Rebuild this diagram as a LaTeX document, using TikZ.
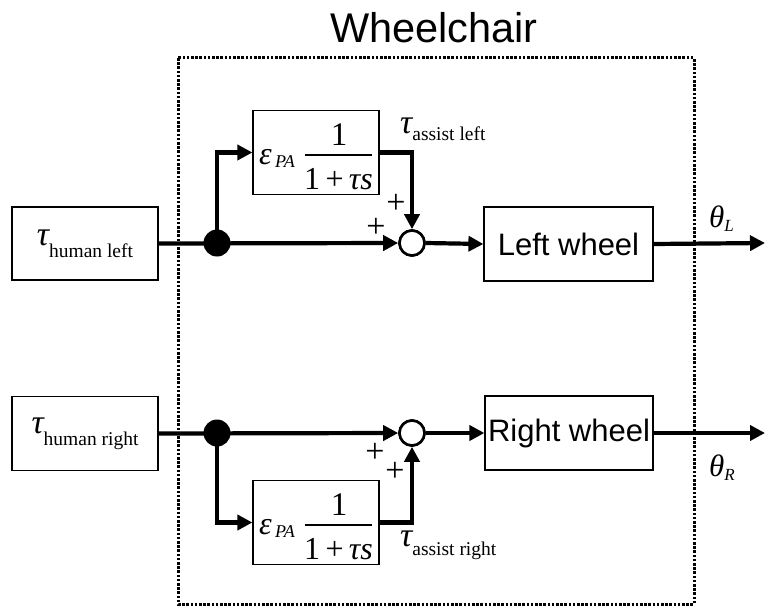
\documentclass[tikz,border=0pt]{standalone}
\usepackage{fontspec}
\setmainfont{Liberation Serif}
\newfontfamily\arialfont{Liberation Sans}
\usetikzlibrary{arrows.meta}

% symbol with a lowered upright subscript, e.g. tau_{human left}
\newcommand\symsub[4]{{\fontsize{#3}{#3}\selectfont\itshape #1}\raisebox{-#4pt}{\fontsize{19.5}{19.5}\selectfont #2}}

\begin{document}
\begin{tikzpicture}[x=1pt,y=-1pt,
    blk/.style={draw,line width=1.2pt,minimum width=#1,inner sep=0pt},
    sumnode/.style={circle,draw,line width=2.6pt,fill=white,minimum size=25pt,inner sep=0pt},
    joint/.style={circle,fill=black,minimum size=27pt,inner sep=0pt},
    conn/.style={line width=4.2pt},
    arr/.style={conn,-{Triangle[length=15pt,width=15pt]}},
    sans/.style={font=\arialfont\fontsize{31}{31}\selectfont},
    signlbl/.style={inner sep=0pt,font=\fontsize{34}{34}\selectfont},
    border/.style={line width=3pt,dash pattern=on 2.6pt off 1.6pt}]
\useasboundingbox (0,0) rectangle (765,607);

% title and system border
\node[font=\arialfont\fontsize{41.5}{41.5}\selectfont,anchor=base] (title) at (434,43) {Wheelchair};
\draw[border] (178,58) rectangle (694,604);

% ---------- left channel ----------
\node[blk=146pt,minimum height=73pt] (hl) at (85,243.5) {\symsub{τ}{human left}{34}{12}};
\node[blk=126pt,minimum height=84pt] (f1) at (316,152.5) {};
\node[sumnode] (s1) at (412,243) {};
\node[blk=169pt,minimum height=74pt,sans] (lw) at (568.5,244) {Left wheel};
\coordinate (d1) at (217,243);
\coordinate (oL) at (765,243);

% ---------- right channel ----------
\node[blk=146pt,minimum height=74pt] (hr) at (85,433.5) {\symsub{τ}{human right}{34}{12}};
\node[blk=126pt,minimum height=84pt] (f2) at (316,522.5) {};
\node[sumnode] (s2) at (412,433) {};
\node[blk=168pt,minimum height=74pt,sans] (rw) at (569,433) {Right wheel};
\coordinate (d2) at (217,433);
\coordinate (oR) at (765,433);

% gain epsilon_PA / (1 + tau s) inside both filter blocks
\foreach \f in {f1,f2}{
  \node[font=\fontsize{32}{32}\selectfont\itshape,anchor=base west,inner sep=0pt] at ([xshift=-57pt,yshift=-12pt]\f.center) {ε};
  \node[font=\fontsize{18}{18}\selectfont\itshape,anchor=base west,inner sep=0pt] at ([xshift=-41pt,yshift=-15pt]\f.center) {PA};
  \node[font=\fontsize{33}{33}\selectfont,anchor=base,inner sep=0pt] at ([xshift=23pt,yshift=7pt]\f.center) {1};
  \draw[line width=1.5pt] ([xshift=-11pt,yshift=-2.5pt]\f.center) -- ([xshift=56pt,yshift=-2.5pt]\f.center);
  \node[font=\fontsize{32}{32}\selectfont,anchor=base,inner sep=0pt] at ([xshift=22.5pt,yshift=-37pt]\f.center) {1\,+\,\textit{τs}};
}

% junction dots
\node[joint] (j1) at (d1) {};
\node[joint] (j2) at (d2) {};

% signal paths, left
\draw[arr] (hl.east) -- (s1.west);
\draw[arr] (j1.center) |- (f1.west);
\draw[arr] (f1.east) -| (s1.north);
\draw[arr] (s1.east) -- (lw.west);
\draw[arr] (lw.east) -- (oL);

% signal paths, right
\draw[arr] (hr.east) -- (s2.west);
\draw[arr] (j2.center) |- (f2.west);
\draw[arr] (f2.east) -| (s2.south);
\draw[arr] (s2.east) -- (rw.west);
\draw[arr] (rw.east) -- (oR);

% redraw the summing junctions over the line ends
\node[sumnode] at (s1) {};
\node[sumnode] at (s2) {};

% signs
\node[signlbl] (p1a) at (376,228) {+};
\node[signlbl] (p1b) at (396,204) {+};
\node[signlbl] (p2a) at (375,453) {+};
\node[signlbl] (p2b) at (395,472) {+};

% signal labels
\node[anchor=base west,inner sep=0pt] (al) at (400,133) {\symsub{τ}{assist left}{34}{7}};
\node[anchor=base west,inner sep=0pt] (ar) at (400,546) {\symsub{τ}{assist right}{34}{9}};
\node[anchor=base west,inner sep=0pt] (tl) at (709,227) {{\fontsize{31}{31}\selectfont\itshape θ}\raisebox{-4pt}{\fontsize{17}{17}\selectfont\itshape L}};
\node[anchor=base west,inner sep=0pt] (tr) at (709,476) {{\fontsize{31}{31}\selectfont\itshape θ}\raisebox{-4pt}{\fontsize{17}{17}\selectfont\itshape R}};
\end{tikzpicture}
\end{document}
